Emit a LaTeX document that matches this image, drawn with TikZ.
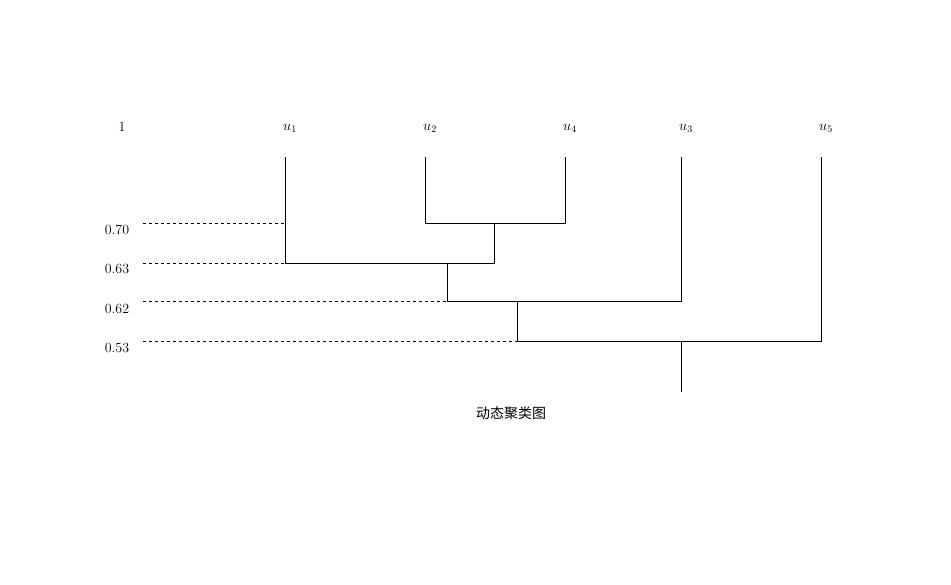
\documentclass[tikz,border=0pt]{standalone}
\usepackage{fontspec}
\newfontfamily\cjk{Noto Sans CJK SC}
\usetikzlibrary{positioning}

\begin{document}
\begin{tikzpicture}[x=1pt,y=-1pt,font=\fontsize{14}{16}\selectfont,
    link/.style={thick,black},
    level/.style={thin,dashed,black}]
    \useasboundingbox (0,0) rectangle (951,584);
    % leaf labels
    \node (one) at (122,127) {1};
    \node (l1) at (290,128) {$u_1$};
    \node (l2) at (430,128) {$u_2$};
    \node (l4) at (570,128) {$u_4$};
    \node (l3) at (686,128) {$u_3$};
    \node (l5) at (826,128) {$u_5$};
    % tops of the leaves
    \coordinate (t1) at (285,157);
    \coordinate (t2) at (425,157);
    \coordinate (t4) at (565,157);
    \coordinate (t3) at (681,157);
    \coordinate (t5) at (821,157);
    % joins
    \coordinate (a2) at (425,223);
    \coordinate (a4) at (565,223);
    \coordinate (am) at (494,223);
    \coordinate (b1) at (285,263);
    \coordinate (bm) at (494,263);
    \coordinate (bc) at (447,263);
    \coordinate (cl) at (447,301);
    \coordinate (c3) at (681,301);
    \coordinate (cc) at (517,301);
    \coordinate (dl) at (517,341);
    \coordinate (d5) at (821,341);
    \coordinate (dc) at (681,341);
    \coordinate (root) at (681,392);
    \draw[link] (t2) -- (a2) -- (a4) -- (t4);
    \draw[link] (am) -- (bm) -- (b1) -- (t1);
    \draw[link] (bc) -- (cl) -- (c3) -- (t3);
    \draw[link] (cc) -- (dl) -- (d5) -- (t5);
    \draw[link] (dc) -- (root);
    % levels
    \node (v70) at (117,230) {0.70};
    \node (v63) at (117,269) {0.63};
    \node (v62) at (117,309) {0.62};
    \node (v53) at (117,348) {0.53};
    \coordinate (e70) at (285,223);
    \draw[level] (143,223) -- (e70);
    \draw[level] (143,263) -- (b1);
    \draw[level] (143,301) -- (cl);
    \draw[level] (143,341) -- (dl);
    \node (cap) at (511,413) {\cjk 动态聚类图};
\end{tikzpicture}
\end{document}
